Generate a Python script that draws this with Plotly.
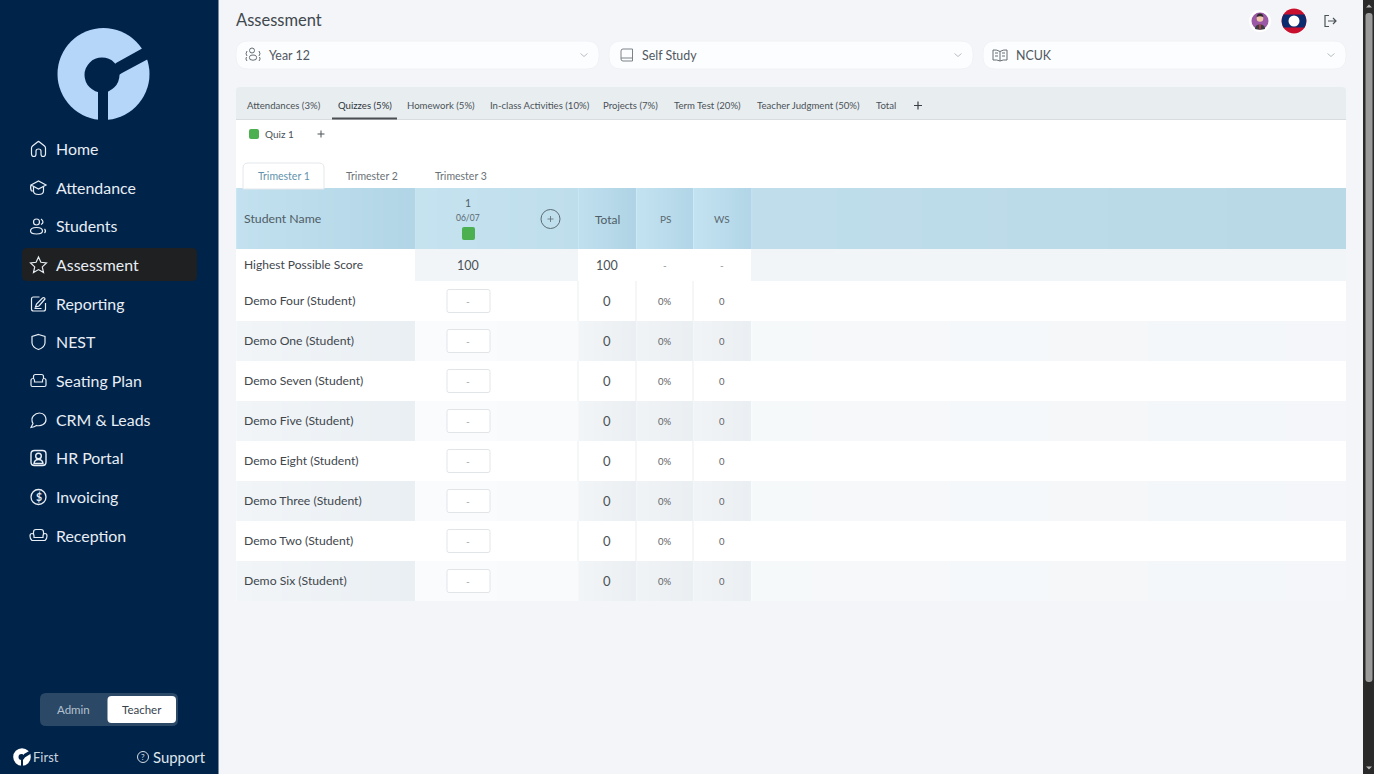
import plotly.graph_objects as go

FONT = "Lato"

nav_items = ["Home", "Attendance", "Students", "Assessment", "Reporting", "NEST",
             "Seating Plan", "CRM & Leads", "HR Portal", "Invoicing", "Reception"]
nav_y = [149, 188, 226, 265, 304, 342, 381, 420, 458, 497, 536]
dropdown_labels = ["Year 12", "Self Study", "NCUK"]
tab_labels = ["Attendances (3%)", "Quizzes (5%)", "Homework (5%)", "In-class Activities (10%)",
              "Projects (7%)", "Term Test (20%)", "Teacher Judgment (50%)", "Total"]
tab_left = [247, 338, 407, 490, 603, 674, 757, 876]
trimester_labels = ["Trimester 1", "Trimester 2", "Trimester 3"]
trimester_center = [284, 372, 461]
students = ["Demo Four (Student)", "Demo One (Student)", "Demo Seven (Student)", "Demo Five (Student)",
            "Demo Eight (Student)", "Demo Three (Student)", "Demo Two (Student)", "Demo Six (Student)"]
quiz_scores = ["-", "-", "-", "-", "-", "-", "-", "-"]
totals = [0, 0, 0, 0, 0, 0, 0, 0]
ps_values = ["0%", "0%", "0%", "0%", "0%", "0%", "0%", "0%"]
ws_values = [0, 0, 0, 0, 0, 0, 0, 0]
hps_row = ["100", "100", "-", "-"]

SIDEBAR = "#00234a"
PAGE = "#f3f5f8"
INK = "#3f474d"
NAV_TEXT = "#e8eef4"
GREEN = "#4caf50"
LOGO = "#b5d5f9"

shapes = []
annotations = []
traces = []


def rect(x0, y0, x1, y1, fill, layer="above"):
    shapes.append(dict(type="rect", x0=x0, y0=y0, x1=x1, y1=y1, fillcolor=fill,
                       line_width=0, layer=layer))


def rounded(x0, y0, x1, y1, r, fill, line=None, layer="above", top_only=False):
    rb = 0 if top_only else r
    d = (f"M {x0+r} {y0} L {x1-r} {y0} Q {x1} {y0} {x1} {y0+r} L {x1} {y1-rb} Q {x1} {y1} {x1-rb} {y1} "
         f"L {x0+rb} {y1} Q {x0} {y1} {x0} {y1-rb} L {x0} {y0+r} Q {x0} {y0} {x0+r} {y0} Z")
    shapes.append(dict(type="path", path=d, fillcolor=fill, layer=layer,
                       line=dict(color=line or fill, width=1 if line else 0)))


def circle(cx, cy, r, fill=None, line=None, width=1.2):
    shapes.append(dict(type="circle", x0=cx-r, y0=cy-r, x1=cx+r, y1=cy+r,
                       fillcolor=fill or "rgba(0,0,0,0)", layer="above",
                       line=dict(color=line or "rgba(0,0,0,0)", width=width if line else 0)))


def icon(cx, cy, d, color, width=1.2, fill=None):
    # shift an icon path written around (0, 0) to its place on the page
    out, is_x = [], True
    for tok in d.split():
        if tok.isalpha():
            out.append(tok)
            is_x = True
        else:
            out.append(str(float(tok) + (cx if is_x else cy)))
            is_x = not is_x
    shapes.append(dict(type="path", path=" ".join(out), layer="above",
                       fillcolor=fill or "rgba(0,0,0,0)",
                       line=dict(color=color, width=width)))


def text(x, y, s, size, color=INK, anchor="left", weight=400):
    # left aligned labels land about a pixel to the right, pull them back
    px = x - 1 if anchor == "left" else x
    annotations.append(dict(x=px, y=y, text=s, showarrow=False, xanchor=anchor, yanchor="middle",
                            borderpad=0, font=dict(family=FONT, size=size, color=color, weight=weight)))


def gradient(x0, x1, y0, y1, c0, c1):
    traces.append(go.Heatmap(x=[x0, x0+1, x1-1, x1], y=[y0, (y0+y1)/2, y1],
                             z=[[0, 0.5, 1], [0, 0.5, 1]], zmin=0, zmax=1, zsmooth="best",
                             colorscale=[[0, c0], [1, c1]], showscale=False, hoverinfo="skip"))


# page and sidebar
rect(0, 0, 1374, 774, PAGE, "below")
rect(0, 0, 218.5, 774, SIDEBAR, "below")

# logo
circle(103.5, 74, 46, LOGO)
circle(102, 75, 17.5, SIDEBAR)
icon(0, 0, "M 98 85 L 108 85 L 108 122 L 98 122 Z", SIDEBAR, 0, SIDEBAR)
icon(0, 0, "M 116 63 L 143 48 L 150 58 L 122 73 Q 110 79 108 92 L 100 80 Z", SIDEBAR, 0, SIDEBAR)

# nav
rounded(22, 248, 197, 281, 5, "#1f2021")
for label, y in zip(nav_items, nav_y):
    text(56, y - 0.8, label, 15.9, NAV_TEXT)

NAV_ICON = NAV_TEXT
icon(38.5, 149, "M -7 -1 Q -7 -2 -6 -3 L -1 -7 Q 0 -8 1 -7 L 6 -3 Q 7 -2 7 -1 L 7 5 Q 7 7.5 4.5 7.5 Q 2.5 7.5 2.5 5 L 2.5 2 Q 2.5 0 0 0 Q -2.5 0 -2.5 2 L -2.5 5 Q -2.5 7.5 -4.5 7.5 Q -7 7.5 -7 5 Z", NAV_ICON)
icon(38.5, 188, "M -7.5 -3 L 0 -7 L 7.5 -3 L 0 1 Z M -5 -1 L -5 3 Q -5 6.5 0 6.5 Q 5 6.5 5 3 L 5 -1 M -7.5 -3 Q -8.5 1 -7 3 L -5 3", NAV_ICON)
circle(36.5, 222, 3, None, NAV_ICON)
icon(38.5, 226, "M -8 5 Q -8 1.5 -2 1.5 Q 4 1.5 4 5 Q 4 8 -2 8 Q -8 8 -8 5 Z M 2.5 -7 Q 6.5 -4 2.5 -1.5 M 6 3 Q 8 5 6 7", NAV_ICON)
icon(38.5, 265, "M 0 -8 L 2.4 -2.7 L 8 -2 L 3.8 1.9 L 5 7.5 L 0 4.6 L -5 7.5 L -3.8 1.9 L -8 -2 L -2.4 -2.7 Z", NAV_ICON)
icon(38.5, 304, "M 1 -7 L -5 -7 Q -7 -7 -7 -5 L -7 5 Q -7 7 -5 7 L 5 7 Q 7 7 7 5 L 7 -1 M -3 3 L -2 0 L 4 -6 Q 6 -7 6.5 -5 L 0.5 2 Z M -4 4.5 L 3 4.5", NAV_ICON)
icon(38.5, 342, "M 0 -7.5 L 6.5 -5.5 L 6.5 1 Q 6 5.5 0 7.5 Q -6 5.5 -6.5 1 L -6.5 -5.5 Z", NAV_ICON)
icon(38.5, 381, "M -5 -2 L -5 -4.5 Q -5 -6.5 -3 -6.5 L 3 -6.5 Q 5 -6.5 5 -4.5 L 5 -2 M -7.5 -0.5 Q -7.5 -2.5 -5.5 -2.5 Q -4 -2.5 -4 -0.5 L -4 1 L 4 1 L 4 -0.5 Q 4 -2.5 5.5 -2.5 Q 7.5 -2.5 7.5 -0.5 L 7.5 4 Q 7.5 5.5 6 5.5 L -6 5.5 Q -7.5 5.5 -7.5 4 Z", NAV_ICON)
icon(38.5, 420, "M -7.5 7.5 L -5.5 3.5 C -9 -3 -3 -7 1 -7 C 6 -7 7.5 -3 7.5 -0.5 C 7.5 4 3 6.5 -2 5.5 Q -4 7 -7.5 7.5 Z", NAV_ICON)
icon(38.5, 458, "M -4 -7.5 L 4 -7.5 Q 7.5 -7.5 7.5 -4 L 7.5 4 Q 7.5 7.5 4 7.5 L -4 7.5 Q -7.5 7.5 -7.5 4 L -7.5 -4 Q -7.5 -7.5 -4 -7.5 Z M -4.5 5.5 Q -4 1.5 0 1.5 Q 4 1.5 4.5 5.5 Z", NAV_ICON, 1.4)
circle(38.5, 456, 2.8, None, NAV_ICON, 1.4)
circle(38.5, 497, 7.5, None, NAV_ICON, 1.3)
text(38.5, 497, "$", 10.5, NAV_ICON, "center", 700)
icon(38.5, 536, "M -5 -1.5 L -5 -4 Q -5 -6.5 -2.5 -6.5 L 2.5 -6.5 Q 5 -6.5 5 -4 L 5 -1.5 M -8.5 0 Q -8.5 -2.5 -6.5 -2.5 Q -4.5 -2.5 -4.5 0 L -4.5 1.5 L 4.5 1.5 L 4.5 0 Q 4.5 -2.5 6.5 -2.5 Q 8.5 -2.5 8.5 0 Q 8.5 3 6.5 4.5 L -6.5 4.5 Q -8.5 3 -8.5 0 Z", NAV_ICON)

# role switch and footer
rounded(40, 693, 178, 726, 6, "#2b4967")
rounded(107.5, 696, 176, 723, 4, "#ffffff")
text(73.5, 709.5, "Admin", 11.5, "#b4c1cf", "center")
text(141.5, 709.5, "Teacher", 11.5, "#37424d", "center")
circle(22, 757, 8.8, "#ffffff")
circle(21.5, 757, 3, SIDEBAR)
icon(0, 0, "M 21 759 L 23 759 L 23 767 L 21 767 Z M 24 754 L 31 750 L 32 753 L 24 758 Z", SIDEBAR, 0, SIDEBAR)
text(33, 756.5, "First", 13, "#c9d4df")
circle(143, 757, 5.5, None, "#d5dde6", 1)
text(143, 757, "?", 8, "#d5dde6", "center")
text(153, 756.5, "Support", 14.9, "#dfe6ed")

# header row of the page
text(236, 20, "Assessment", 16.5, "#41484e")
for x0, x1, label, lx in zip([236, 609, 983], [599, 973, 1346], dropdown_labels, [269, 642, 1016]):
    rounded(x0, 41, x1, 69, 12, "#fcfdfe", "#f0f2f5")
    text(lx, 55, label, 12.4, "#50585f")
    icon(x1-15, 55, "M -3.5 -1.5 L 0 1.5 L 3.5 -1.5", "#b9bfc4", 1)
circle(252, 50.5, 2.5, None, "#666d73", 1)
icon(253, 55, "M -3 4.5 Q -5 0 0 0 Q 5 0 3 4.5 Q 0 6 -3 4.5 Z M -6 -4 Q -8 -1 -6 1 M 6 -4 Q 8 -1 6 1 M -6.5 2 Q -8 4 -6 6 M 6.5 2 Q 8 4 6 6", "#666d73", 1)
icon(627, 55, "M -4 -6 L 5.5 -6 L 5.5 6 L -4 6 Q -6 6 -6 4 L -6 -4 Q -6 -6 -4 -6 Z M -6 3 L 5.5 3", "#7c8287", 1)
icon(1000, 55, "M 0 -3.5 Q -3 -5.5 -7 -5 L -7 5 Q -3 4.5 0 6 Q 3 4.5 7 5 L 7 -5 Q 3 -5.5 0 -3.5 Z M 0 -3.5 L 0 6 M -5 -2 L -2 -2 M -5 1 L -2 1 M 2 -2 L 5 -2 M 2 1 L 5 1", "#666d73", 1)

# avatar, flag, logout
circle(1260, 21, 11, "#ffffff")
circle(1260, 21, 8.5, "#9a58a5")
icon(1260, 21, "M -5 8 Q -5 3.5 0 3.5 Q 5 3.5 5 8 Q 0 9.5 -5 8 Z", "#3a3d45", 0, "#3a3d45")
icon(1260, 21, "M -0.8 3.5 L 0.8 3.5 L 0.6 8.5 L -0.6 8.5 Z", "#d0453a", 0, "#d0453a")
circle(1260, 18.5, 3.3, "#f0c8aa")
icon(1260, 18, "M -3.3 -1 Q -3.3 -4.5 0 -4.5 Q 3.3 -4.5 3.3 -1 Q 0 -2.5 -3.3 -1 Z", "#2d2a2a", 0, "#2d2a2a")
circle(1294, 21, 13, "#ffffff")
circle(1294, 21, 12.5, "#c8102e")
icon(1294, 21, "M -10.5 -6.5 L 10.5 -6.5 Q 14 0 10.5 6.5 L -10.5 6.5 Q -14 0 -10.5 -6.5 Z", "#0c2a6e", 0, "#0c2a6e")
circle(1294, 21, 5.5, "#ffffff")
icon(1330, 21, "M -1 -5.5 L -5 -5.5 L -5 5.5 L -1 5.5 M -2 0 L 6 0 M 3 -3 L 6 0 L 3 3", "#4c5358", 1.2)

# scrollbar
rect(1363, 0, 1374, 774, "#2a2a2a")
rounded(1365.5, 13, 1372.5, 682, 3, "#9b9b9b")
icon(1369, 6, "M -3 1.5 L 0 -1.5 L 3 1.5 Z", "#b5b5b5", 0, "#b5b5b5")
icon(1369, 768, "M -3 -1.5 L 0 1.5 L 3 -1.5 Z", "#b5b5b5", 0, "#b5b5b5")

# tabs
rounded(236, 87, 1346, 120, 4, "#e8edf0", layer="below", top_only=True)
rect(236, 120, 1346, 188, "#ffffff", "below")
rect(236, 119, 1346, 120, "#d8dcdf")
for i, (label, x) in enumerate(zip(tab_labels, tab_left)):
    text(x, 105, label, 9.6, "#2f363b" if i == 1 else "#4a5257")
rect(332, 117.5, 397, 119.5, "#4a4f53")
icon(918, 105.5, "M -4 0 L 4 0 M 0 -4 L 0 4", "#3a4146", 1.2)
rounded(249, 129, 259, 139, 2, GREEN)
text(265, 134, "Quiz 1", 10, "#4a5257")
icon(321, 134, "M -3.5 0 L 3.5 0 M 0 -3.5 L 0 3.5", "#4a5257", 1)

# trimester tabs
rounded(243, 163, 324, 189, 5, "#ffffff", "#e3e8ec", top_only=True)
for i, (label, x) in enumerate(zip(trimester_labels, trimester_center)):
    text(x, 176, label, 10.5, "#5f93ad" if i == 0 else "#6a7277", "center")

# table header
H0, H1 = 188, 249
gradient(236, 415, H0, H1, "#cbe6f3", "#a9d0e2")
gradient(415, 578, H0, H1, "#c8e4f1", "#bcdcea")
gradient(578, 636, H0, H1, "#c8e5f3", "#a7cee0")
gradient(636, 693, H0, H1, "#cce8f6", "#a9d0e2")
gradient(693, 751, H0, H1, "#cce8f6", "#a9d0e2")
gradient(751, 1346, H0, H1, "#c3e0ee", "#b5d6e3")
text(244, 218.5, "Student Name", 12.3, "#4f5d66")
text(468, 203, "1", 10.5, "#4f5d66", "center")
text(468, 218, "06/07", 8.5, "#5a6870", "center")
rounded(462, 227, 475, 240, 2, GREEN)
circle(550.5, 219, 9.5, None, "#5b6b75", 1)
icon(550.5, 219, "M -3 0 L 3 0 M 0 -3 L 0 3", "#5b6b75", 0.8)
text(607, 219, "Total", 12, "#4f5d66", "center")
text(665, 219, "PS", 10, "#5a6870", "center")
text(722, 219, "WS", 10, "#5a6870", "center")

# highest possible score row
rect(236, 249, 415, 281, "#ffffff", "below")
rect(415, 249, 578, 281, "#f1f5f8", "below")
rect(578, 249, 751, 281, "#ffffff", "below")
rect(751, 249, 1346, 281, "#f1f5f8", "below")
text(244, 264.5, "Highest Possible Score", 12, INK)
for x, v, size in zip([468, 607, 665, 722], hps_row, [12.5, 12.5, 10, 10]):
    text(x, 265, v, size, "#4a5257" if size > 12 else "#8b9296", "center")

# student rows
for i, name in enumerate(students):
    y0 = 281 + i * 40
    y1 = y0 + 40
    yc = y0 + 20
    if i % 2 == 0:
        rect(236, y0, 1346, y1, "#ffffff", "below")
        for x in [578, 636, 693]:
            rect(x-1, y0, x+1, y1, "#f4f6f8")
    else:
        gradient(236, 415, y0, y1, "#f5f8fa", "#e6ecf1")
        gradient(415, 578, y0, y1, "#fbfcfd", "#f7f9fb")
        gradient(578, 636, y0, y1, "#f5f8fa", "#e7ecf0")
        gradient(636, 693, y0, y1, "#f3f6f8", "#e7ecf0")
        gradient(693, 751, y0, y1, "#f4f7f9", "#e7ecf0")
        gradient(751, 1346, y0, y1, "#f8fafb", "#f2f5f8")
    text(244, yc - 0.5, name, 12.2, INK)
    rounded(447, yc-11.5, 490, yc+11.5, 2, "#ffffff", "#e1e5e8")
    text(468, yc, quiz_scores[i], 10, "#9aa0a4", "center")
    text(607, yc, str(totals[i]), 13, "#4a5257", "center")
    text(665, yc, ps_values[i], 9.5, "#5f6468", "center")
    text(722, yc, str(ws_values[i]), 9.5, "#5f6468", "center")

fig = go.Figure(data=traces)
fig.update_xaxes(range=[0, 1374], visible=False, fixedrange=True)
fig.update_yaxes(range=[774, 0], visible=False, fixedrange=True)
fig.update_layout(width=1374, height=774, margin=dict(l=0, r=0, t=0, b=0, pad=0),
                  paper_bgcolor=PAGE, plot_bgcolor="rgba(0,0,0,0)", showlegend=False,
                  shapes=shapes, annotations=annotations)

fig.write_html("out.html", config=dict(displayModeBar=False),
               post_script="document.body.style.margin='0';document.body.style.overflow='hidden';")
